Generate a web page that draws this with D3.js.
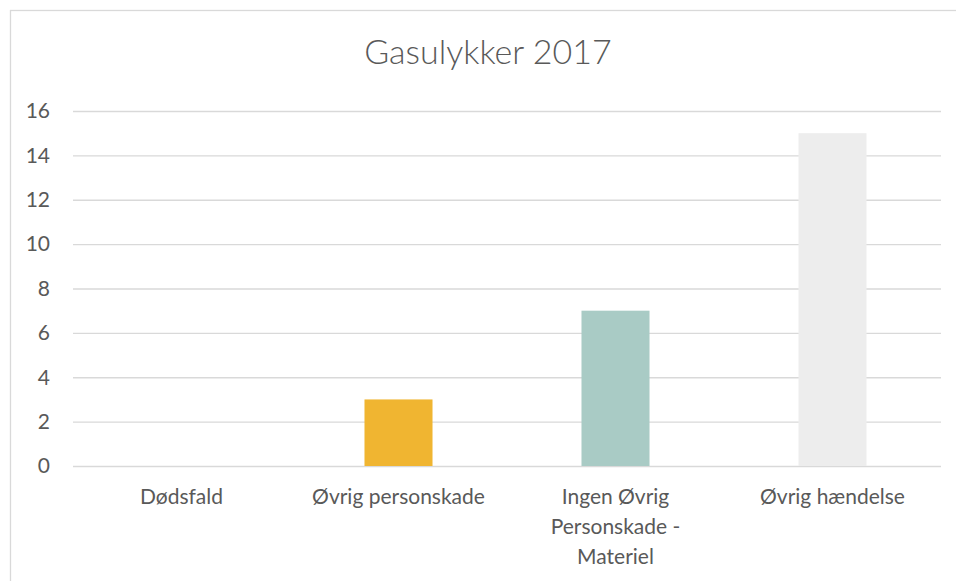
<!DOCTYPE html>
<html>
<head>
<meta charset="utf-8">
<script src="https://cdn.jsdelivr.net/npm/d3@7"></script>
<style>
  body { margin: 0; background: #fff; }
  svg { display: block; }
  text { font-family: Lato, "Open Sans", sans-serif; fill: #595959; }
</style>
</head>
<body>
<div id="chart"></div>
<script>
var categories = [["Dødsfald"], ["Øvrig personskade"], ["Ingen Øvrig", "Personskade -", "Materiel"], ["Øvrig hændelse"]];
var values = [0, 3, 7, 15];
var colors = ["#5B9BD5", "#F0B531", "#A9CBC5", "#EDEDED"];
var yTicks = [0, 2, 4, 6, 8, 10, 12, 14, 16];
var title = "Gasulykker 2017";

var width = 956, height = 581;
var margin = {top: 111, right: 15, bottom: 115, left: 73};

var svg = d3.select("#chart").append("svg")
    .attr("width", width)
    .attr("height", height);

// chart area frame (top + left edge visible)
svg.append("rect")
    .attr("x", 10.5).attr("y", 10.5)
    .attr("width", width + 10).attr("height", height + 10)
    .attr("fill", "none")
    .attr("stroke", "#D9D9D9")
    .attr("stroke-width", 1.3);

svg.append("text")
    .attr("x", 488).attr("y", 64)
    .attr("text-anchor", "middle")
    .style("font-size", "34px")
    .style("font-weight", 300)
    .text(title);

var x = d3.scaleBand()
    .domain(d3.range(categories.length))
    .range([margin.left, width - margin.right])
    .padding(0);

var y = d3.scaleLinear()
    .domain([0, 16])
    .range([height - margin.bottom, margin.top]);

var grid = svg.append("g")
    .attr("transform", "translate(" + margin.left + ",0)")
    .call(d3.axisLeft(y).tickValues(yTicks).tickSize(-(width - margin.left - margin.right)).tickFormat(""));
grid.select(".domain").remove();
grid.selectAll("line").attr("stroke", "#D9D9D9").attr("stroke-width", 1.3);

svg.selectAll(".ylab")
    .data(yTicks)
    .enter().append("text")
    .attr("class", "ylab")
    .attr("x", 50)
    .attr("y", function (d) { return y(d); })
    .attr("dy", "0.35em")
    .attr("text-anchor", "end")
    .style("font-size", "21px")
    .text(function (d) { return d; });

var barW = x.bandwidth() / 3.19;

svg.selectAll(".bar")
    .data(values)
    .enter().append("rect")
    .attr("class", "bar")
    .attr("x", function (d, i) { return x(i) + x.bandwidth() / 2 - barW / 2; })
    .attr("y", function (d) { return y(d); })
    .attr("width", barW)
    .attr("height", function (d) { return y(0) - y(d); })
    .attr("fill", function (d, i) { return colors[i]; });

var labels = svg.selectAll(".xlab")
    .data(categories)
    .enter().append("text")
    .attr("class", "xlab")
    .attr("text-anchor", "middle")
    .style("font-size", "21px")
    .attr("transform", function (d, i) { return "translate(" + (x(i) + x.bandwidth() / 2) + ",504)"; });

labels.selectAll("tspan")
    .data(function (d) { return d; })
    .enter().append("tspan")
    .attr("x", 0)
    .attr("y", function (d, i) { return i * 30; })
    .text(function (d) { return d; });
</script>
</body>
</html>
